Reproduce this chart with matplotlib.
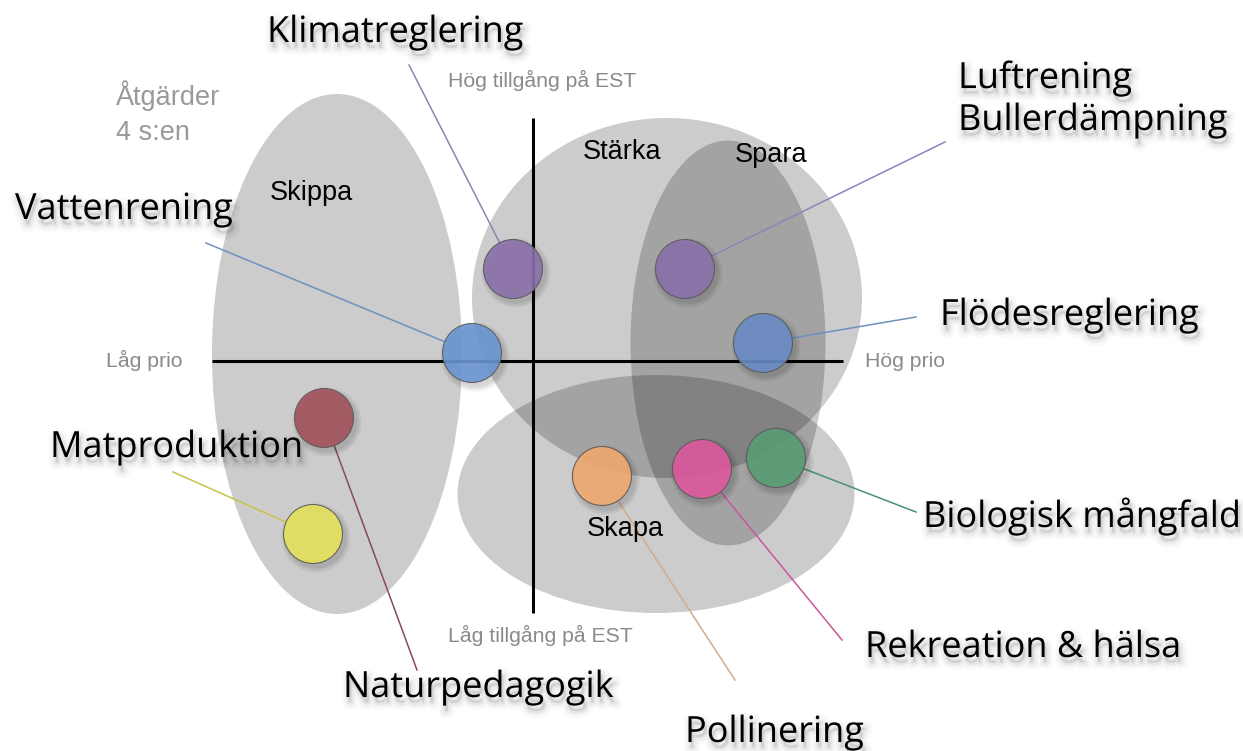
import numpy as np
import matplotlib
matplotlib.use("Agg")
import matplotlib.pyplot as plt
from matplotlib.patches import Ellipse, Circle
import matplotlib.patheffects as pe

# ---------------- data (origin = crossing of the two axes) ----------------
services = ["Klimatreglering", "Luftrening\nBullerdämpning", "Flödesreglering",
            "Vattenrening", "Naturpedagogik", "Matproduktion", "Pollinering",
            "Rekreation & hälsa", "Biologisk mångfald"]
prio = [-20, 152, 230, -61, -209, -220, 69, 169, 243]          # x: Låg -> Hög prio
tillgang = [92, 92, 18, 8, -57, -173, -115, -108, -97]          # y: Låg -> Hög tillgång
colors = ["#8b71ab", "#8b71ab", "#6a8cc4", "#6b96d2", "#a3525b",
          "#e5e35b", "#f0aa70", "#e05a9f", "#5a9f77"]
line_colors = ["#8a86b0", "#8a86b8", "#7090c0", "#7090c0", "#8a4a5a",
               "#c8c248", "#d8aa84", "#c8589a", "#4a9070"]
# far end of each leader line
lead_x = [-124, 412, 383, -327, -116, -360, 202, 309, 383]
lead_y = [296, 219, 44, 118, -309, -111, -319, -279, -151]
# label anchor (left x, baseline y)
lab_x = [-266, 425, 407, -518, -190, -483, 152, 332, 390]
lab_y = [319, 231, 36, 142, -336, -96, -381, -296, -166]

# four "s" groups (ellipses): name, centre, width, height
groups = ["Skippa", "Stärka", "Spara", "Skapa"]
grp_cx = [-196, 134, 195, 123]
grp_cy = [7, 63, 18, -133]
grp_w = [250, 390, 195, 397]
grp_h = [520, 360, 405, 238]
grp_lab_x = [-263, 50, 202, 54]
grp_lab_y = [161, 202, 199, -175]

R = 29.5

fig = plt.figure(figsize=(12.43, 7.51), dpi=100)
ax = fig.add_axes([0, 0, 1, 1])
ax.set_xlim(-533, 710)
ax.set_ylim(-390, 361)
ax.axis("off")

# ellipses
for cx, cy, w, h in zip(grp_cx, grp_cy, grp_w, grp_h):
    ax.add_patch(Ellipse((cx, cy), w, h, facecolor="black", alpha=0.2,
                         edgecolor="none", zorder=1))

# axes
ax.plot([-321, 310], [0, 0], color="black", lw=2.2, zorder=2, solid_capstyle="butt")
ax.plot([0, 0], [243, -252], color="black", lw=2.2, zorder=2, solid_capstyle="butt")

hel = ["Liberation Sans", "DejaVu Sans"]
small = dict(family=hel, color="#8a8a8a", fontsize=15.3)
ax.text(-85, 274, "Hög tillgång på EST", ha="left", va="baseline", **small)
ax.text(-85, -281, "Låg tillgång på EST", ha="left", va="baseline", **small)
ax.text(-427, -6, "Låg prio", ha="left", va="baseline", **small)
ax.text(332, -6, "Hög prio", ha="left", va="baseline", **small)
ax.text(-417, 256, "Åtgärder", ha="left", va="baseline",
        family=hel, color="#999999", fontsize=19.5)
ax.text(-417, 221, "4 s:en", ha="left", va="baseline",
        family=hel, color="#999999", fontsize=19.5)

for name, gx, gy in zip(groups, grp_lab_x, grp_lab_y):
    ax.text(gx, gy, name, ha="left", va="baseline",
            family=hel, color="black", fontsize=19.5, zorder=6)

# leader lines
for x, y, lx, ly, lc in zip(prio, tillgang, lead_x, lead_y, line_colors):
    d = np.array([lx - x, ly - y], dtype=float)
    d /= np.hypot(*d)
    ax.plot([x + R * d[0], lx], [y + R * d[1], ly], color=lc, lw=1.1, zorder=3)

# circles with soft shadow
for x, y, c in zip(prio, tillgang, colors):
    for k, a in enumerate([0.05, 0.05, 0.06]):
        ax.add_patch(Circle((x + 3, y - 4), R + 5 - 2 * k, facecolor="black",
                            alpha=a, edgecolor="none", zorder=4))
    ax.add_patch(Circle((x, y), R, facecolor=c, alpha=0.9,
                        edgecolor="#5a5a5a", lw=0.8, zorder=5))

shadow = [pe.Stroke(linewidth=10, foreground="black", alpha=0.025, offset=(1.5, -4)),
          pe.Stroke(linewidth=6, foreground="black", alpha=0.03, offset=(1.5, -4)),
          pe.Stroke(linewidth=3, foreground="black", alpha=0.04, offset=(1.5, -4)),
          pe.Normal()]
for name, lx, ly in zip(services, lab_x, lab_y):
    ax.text(lx, ly, name, ha="left", va="baseline", fontsize=26,
            family=["Open Sans", "DejaVu Sans"], color="black",
            linespacing=1.22, path_effects=shadow, zorder=7)

fig.savefig("out.png", dpi=100)
